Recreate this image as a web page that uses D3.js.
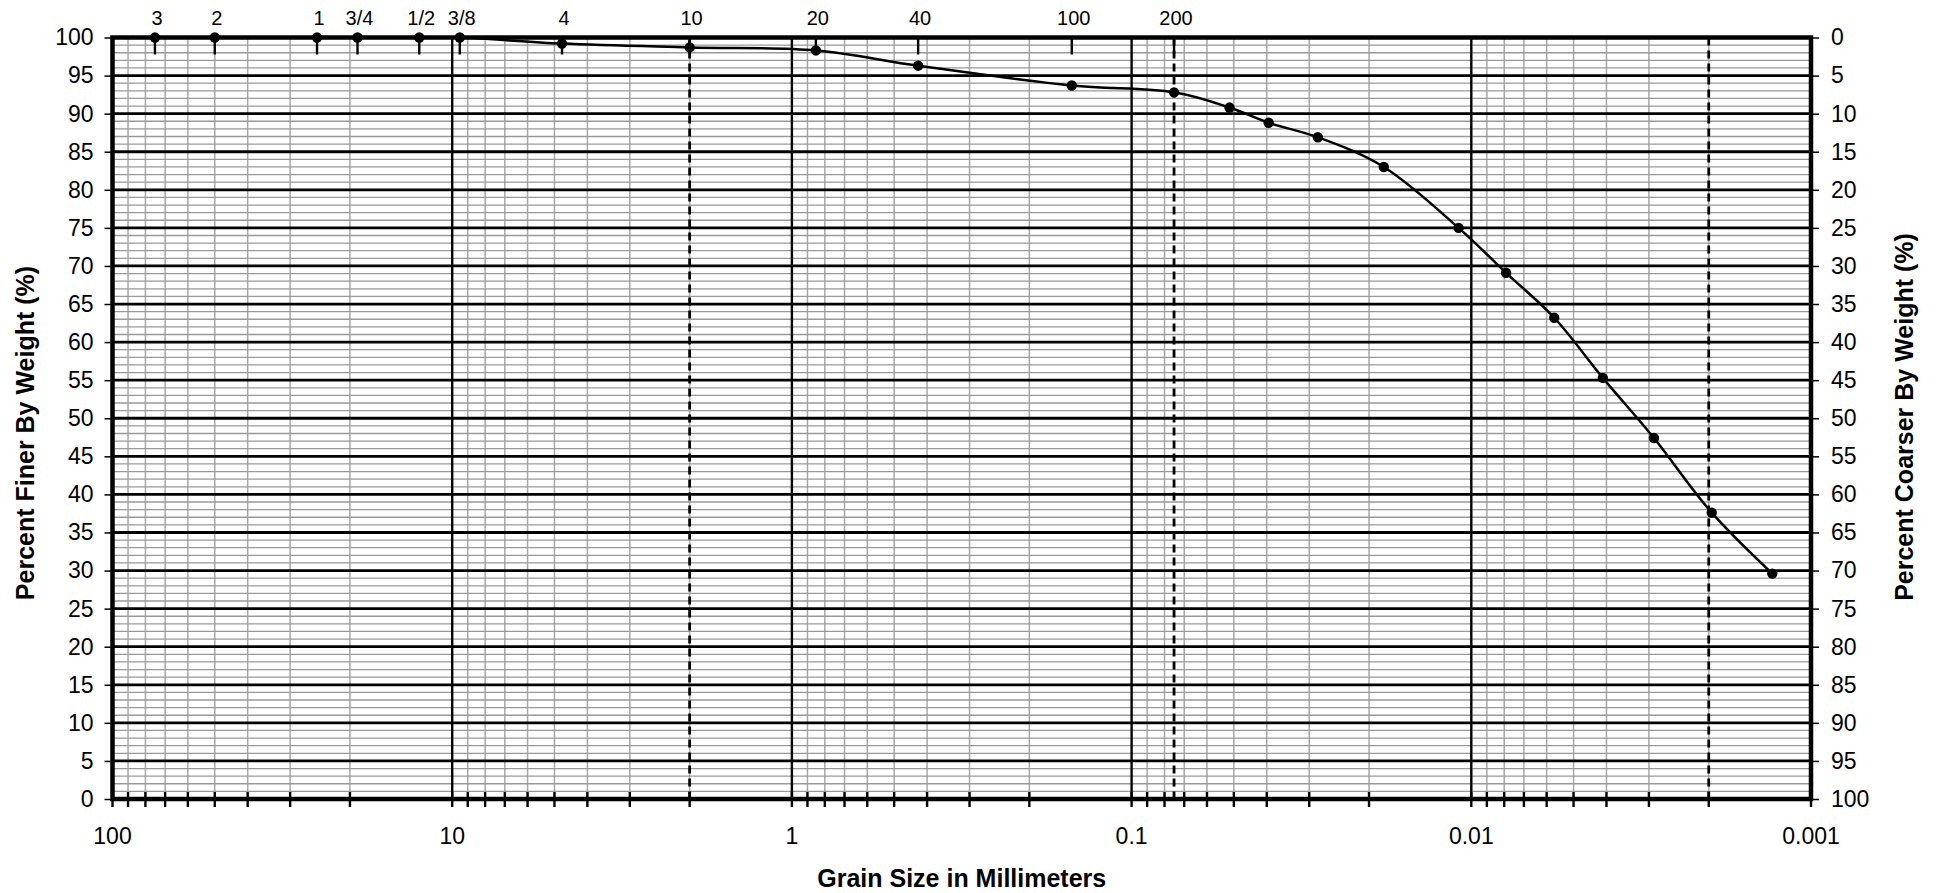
<!DOCTYPE html>
<html><head><meta charset="utf-8">
<script src="https://cdn.jsdelivr.net/npm/d3@7"></script>
<style>
body{margin:0;background:#fff}
text{font-family:"Liberation Sans",Arial,sans-serif;fill:#000}
</style>
</head><body>
<svg id="c" width="1940" height="893"></svg>
<script>
// ---- data ----
const sieveLabels = ["3","2","1","3/4","1/2","3/8","4","10","20","40","100","200"];
const sieveSizes = [75,50,25,19,12.5,9.5,4.75,2.0,0.85,0.425,0.15,0.075];
const grainSizes = [75,50,25,19,12.5,9.5,4.75,2.0,0.85,0.425,0.15,0.075,0.0515,0.0395,0.0283,0.0181,0.0109,0.0079,0.0057,0.0041,0.0029,0.00196,0.0013];
const percentFiner = [100,100,100,100,100,100,99.2,98.7,98.3,96.3,93.7,92.8,90.8,88.8,86.9,83.0,75.0,69.1,63.2,55.3,47.4,37.6,29.6];
const xTickValues = [100,10,1,0.1,0.01,0.001];
const xTickLabels = ["100","10","1","0.1","0.01","0.001"];
const boundarySizes = [2.0,0.075,0.002];
const yTickValues = [0,5,10,15,20,25,30,35,40,45,50,55,60,65,70,75,80,85,90,95,100];
const yMinorValues = [1,2,3,4,6,7,8,9,11,12,13,14,16,17,18,19,21,22,23,24,26,27,28,29,31,32,33,34,36,37,38,39,41,42,43,44,46,47,48,49,51,52,53,54,56,57,58,59,61,62,63,64,66,67,68,69,71,72,73,74,76,77,78,79,81,82,83,84,86,87,88,89,91,92,93,94,96,97,98,99];
const xTitle = "Grain Size in Millimeters";
const yTitleLeft = "Percent Finer By Weight (%)";
const yTitleRight = "Percent Coarser By Weight (%)";

// ---- layout ----
const L = 112.5, R = 1811, T = 37.5, B = 799;
const svg = d3.select("#c");
const x = d3.scaleLog().domain([100, 0.001]).range([L, R]);
const y = d3.scaleLinear().domain([0, 100]).range([B, T]);
const yR = d3.scaleLinear().domain([100, 0]).range([B, T]);

const allLogTicks = x.ticks();            // 1..9 x each decade
const minorX = allLogTicks.filter(v => !xTickValues.some(t => Math.abs(Math.log10(v) - Math.log10(t)) < 1e-6));

// minor vertical grid
svg.append("g").selectAll("line").data(minorX).join("line")
  .attr("x1", d => x(d)).attr("x2", d => x(d)).attr("y1", T).attr("y2", B)
  .attr("stroke", "#a8a8a8").attr("stroke-width", 1.5);

// minor horizontal grid
svg.append("g").selectAll("line").data(yMinorValues).join("line")
  .attr("x1", L).attr("x2", R).attr("y1", d => y(d)).attr("y2", d => y(d))
  .attr("stroke", "#999").attr("stroke-width", 1.3);

// major horizontal grid
svg.append("g").selectAll("line").data(yTickValues).join("line")
  .attr("x1", L).attr("x2", R).attr("y1", d => y(d)).attr("y2", d => y(d))
  .attr("stroke", "#000").attr("stroke-width", 2.8);

// major vertical grid (decades)
svg.append("g").selectAll("line").data(xTickValues).join("line")
  .attr("x1", d => x(d)).attr("x2", d => x(d)).attr("y1", T).attr("y2", B)
  .attr("stroke", "#000").attr("stroke-width", 2.4);

// boundary dashed lines
svg.append("g").selectAll("line").data(boundarySizes).join("line")
  .attr("x1", d => x(d)).attr("x2", d => x(d)).attr("y1", T).attr("y2", B)
  .attr("stroke", "#000").attr("stroke-width", 2.8).attr("stroke-dasharray", "8,5");

// sieve tick marks at top
svg.append("g").selectAll("line").data(sieveSizes).join("line")
  .attr("x1", d => x(d)).attr("x2", d => x(d)).attr("y1", T).attr("y2", T + 17)
  .attr("stroke", "#000").attr("stroke-width", 2.4);

// sieve labels
svg.append("g").selectAll("text").data(sieveSizes).join("text")
  .attr("x", d => x(d) + 2).attr("y", 25).attr("text-anchor", "middle")
  .style("font-size", "20px").text((d, i) => sieveLabels[i]);

// bottom axis ticks (all log ticks)
svg.append("g").selectAll("line").data(allLogTicks).join("line")
  .attr("x1", d => x(d)).attr("x2", d => x(d)).attr("y1", B - 7).attr("y2", B + 8)
  .attr("stroke", "#000").attr("stroke-width", 2.4);

// bottom labels
svg.append("g").selectAll("text").data(xTickValues).join("text")
  .attr("x", d => x(d)).attr("y", 844).attr("text-anchor", "middle")
  .style("font-size", "23px").text((d, i) => xTickLabels[i]);

// left axis
const gl = svg.append("g").attr("transform", `translate(${L},0)`)
  .call(d3.axisLeft(y).tickValues(yTickValues).tickSize(8).tickPadding(11).tickFormat(d3.format("d")));
gl.select(".domain").remove();
gl.selectAll(".tick line").attr("stroke", "#000").attr("stroke-width", 1.5);
gl.selectAll(".tick text").style("font-size", "23px").attr("font-family", null);

// right axis
const gr = svg.append("g").attr("transform", `translate(${R},0)`)
  .call(d3.axisRight(yR).tickValues(yTickValues).tickSize(8).tickPadding(12).tickFormat(d3.format("d")));
gr.select(".domain").remove();
gr.selectAll(".tick line").attr("stroke", "#000").attr("stroke-width", 1.5);
gr.selectAll(".tick text").style("font-size", "23px").attr("font-family", null);

// plot border
svg.append("rect").attr("x", L).attr("y", T).attr("width", R - L).attr("height", B - T)
  .attr("fill", "none").attr("stroke", "#000").attr("stroke-width", 4.5);

// data curve
const pts = grainSizes.map((g, i) => [g, percentFiner[i]]);
svg.append("path").datum(pts)
  .attr("d", d3.line().x(d => x(d[0])).y(d => y(d[1])).curve(d3.curveCatmullRom.alpha(0.5)))
  .attr("fill", "none").attr("stroke", "#000").attr("stroke-width", 2.5);

svg.append("g").selectAll("circle").data(pts).join("circle")
  .attr("cx", d => x(d[0])).attr("cy", d => y(d[1])).attr("r", 5.2).attr("fill", "#000");

// titles
svg.append("text").attr("x", (L + R) / 2).attr("y", 887).attr("text-anchor", "middle")
  .style("font-size", "25px").style("font-weight", "bold").text(xTitle);
svg.append("text").attr("transform", "translate(34,433) rotate(-90)").attr("text-anchor", "middle")
  .style("font-size", "25px").style("font-weight", "bold").text(yTitleLeft);
svg.append("text").attr("transform", "translate(1913,417) rotate(-90)").attr("text-anchor", "middle")
  .style("font-size", "25px").style("font-weight", "bold").text(yTitleRight);
</script>
</body></html>
